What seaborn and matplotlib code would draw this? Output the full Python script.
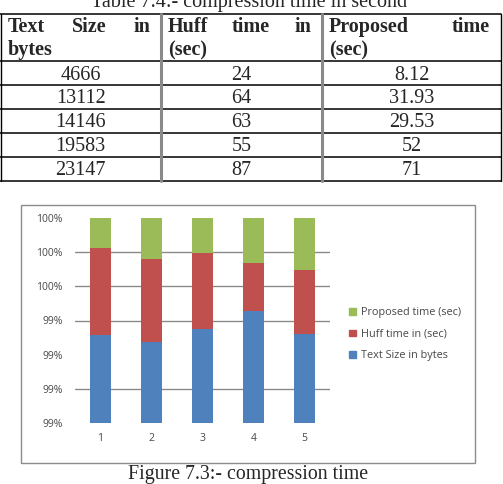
import matplotlib
matplotlib.use("Agg")
import matplotlib.pyplot as plt
from matplotlib.patches import Patch, Rectangle
import seaborn as sns
import pandas as pd
import numpy as np

# data, as in Table 7.4
runs = ["1", "2", "3", "4", "5"]
text_size = [4666, 13112, 14146, 19583, 23147]
huff_time = [24, 64, 63, 55, 87]
proposed_time = [8.12, 31.93, 29.53, 52, 71]

series_names = ["Text Size in bytes", "Huff time in (sec)", "Proposed time (sec)"]
header_words = [["Text", "Size", "in"], ["Huff", "time", "in"], ["Proposed", "time"]]
header_line2 = ["bytes", "(sec)", "(sec)"]
table_title = "Table 7.4:- compression time in second"
caption = "Figure 7.3:- compression time"

blue, red, green = "#4f81bd", "#c0504d", "#9bbb59"
W, H = 503, 484
FS = 14.5


def main():
    sns.set_style("white")
    plt.rcParams["font.family"] = ["Liberation Serif", "DejaVu Serif"]

    fig = plt.figure(figsize=(W / 100, H / 100), dpi=100)

    # page layer in pixel coordinates
    page = fig.add_axes([0, 0, 1, 1])
    page.set_xlim(0, W)
    page.set_ylim(H, 0)
    page.axis("off")

    # ---- table ----
    page.text(249, 7, table_title, ha="center", va="baseline", fontsize=FS)
    col_x = [0.5, 161, 322, 501]
    row_y = [13.5, 61, 84.5, 108.5, 132.5, 156.5, 180.5]
    for y in row_y:
        page.plot([0, 501.5], [y, y], color="black", lw=1.1)
    page.plot([col_x[0]] * 2, [row_y[0], row_y[-1]], color="black", lw=1)
    page.plot([col_x[-1]] * 2, [row_y[0], row_y[-1]], color="black", lw=1)
    for x in col_x[1:-1]:
        page.plot([x, x], [row_y[0], row_y[-1]], color="#8a8a8a", lw=2.2)

    renderer = fig.canvas.get_renderer()
    for c, words in enumerate(header_words):
        x0, x1 = col_x[c] + 7, col_x[c + 1] - 11
        texts = [page.text(0, 32, w, ha="left", va="baseline", fontsize=FS,
                           fontweight="bold") for w in words]
        widths = [t.get_window_extent(renderer).width for t in texts]
        gap = (x1 - x0 - sum(widths)) / (len(words) - 1)
        x = x0
        for t, w in zip(texts, widths):
            t.set_x(x)
            x += w + gap
        page.text(x0, 55, header_line2[c], ha="left", va="baseline",
                  fontsize=FS, fontweight="bold")

    cols = [text_size, huff_time, proposed_time]
    for c, vals in enumerate(cols):
        cx = (col_x[c] + col_x[c + 1]) / 2
        for r, v in enumerate(vals):
            page.text(cx, row_y[r + 1] + 18.5, f"{v:g}", ha="center",
                      va="baseline", fontsize=FS)

    # ---- chart ----
    page.add_patch(Rectangle((21, 204.5), 454, 258.5, fill=False,
                             edgecolor="#8c8c8c", lw=1))
    page.text(248, 479.5, caption, ha="center", va="baseline", fontsize=14.3)

    df = pd.DataFrame({series_names[0]: text_size,
                       series_names[1]: huff_time,
                       series_names[2]: proposed_time}, index=runs)
    pct = df.div(df.sum(axis=1), axis=0)
    cum = pct.cumsum(axis=1).reset_index(names="run")

    ax = fig.add_axes([75 / W, 61 / H, 255 / W, 205 / H])
    ax.set_axisbelow(True)
    for name, color in zip(series_names[::-1], [green, red, blue]):
        sns.barplot(data=cum, x="run", y=name, color=color, width=0.41,
                    saturation=1, linewidth=0, ax=ax, zorder=3)

    ticks = np.linspace(0.988, 1.0, 7)
    ax.set_ylim(0.988, 1.0)
    ax.set_yticks(ticks)
    ax.set_yticklabels([f"{t:.0%}" for t in ticks])
    ax.set_xlim(-0.5, 4.5)
    ax.set_xlabel("")
    ax.set_ylabel("")
    ax.yaxis.grid(True, color="#8a8a8a", lw=1)
    for i, gl in enumerate(ax.get_ygridlines()):
        if i in (0, 2, 6):
            gl.set_visible(False)
    for s in ax.spines.values():
        s.set_visible(False)
    ax.tick_params(length=0, labelsize=7.5, labelcolor="#484848")
    ax.tick_params(axis="y", pad=9)
    ax.tick_params(axis="x", pad=7)
    for lab in ax.get_xticklabels() + ax.get_yticklabels():
        lab.set_family(["Open Sans", "DejaVu Sans"])

    handles = [Patch(color=c, label=n) for c, n in
               zip([green, red, blue], series_names[::-1])]
    fig.legend(handles=handles, loc="upper left",
               bbox_to_anchor=(349 / W, 1 - 307.5 / H), frameon=False,
               prop={"family": ["Open Sans", "DejaVu Sans"], "size": 7.8},
               handlelength=0.6, handleheight=0.6, handletextpad=0.5,
               labelspacing=0.95, borderpad=0, borderaxespad=0,
               labelcolor="#484848")

    fig.savefig("out.png", dpi=100)


if __name__ == "__main__":
    main()
